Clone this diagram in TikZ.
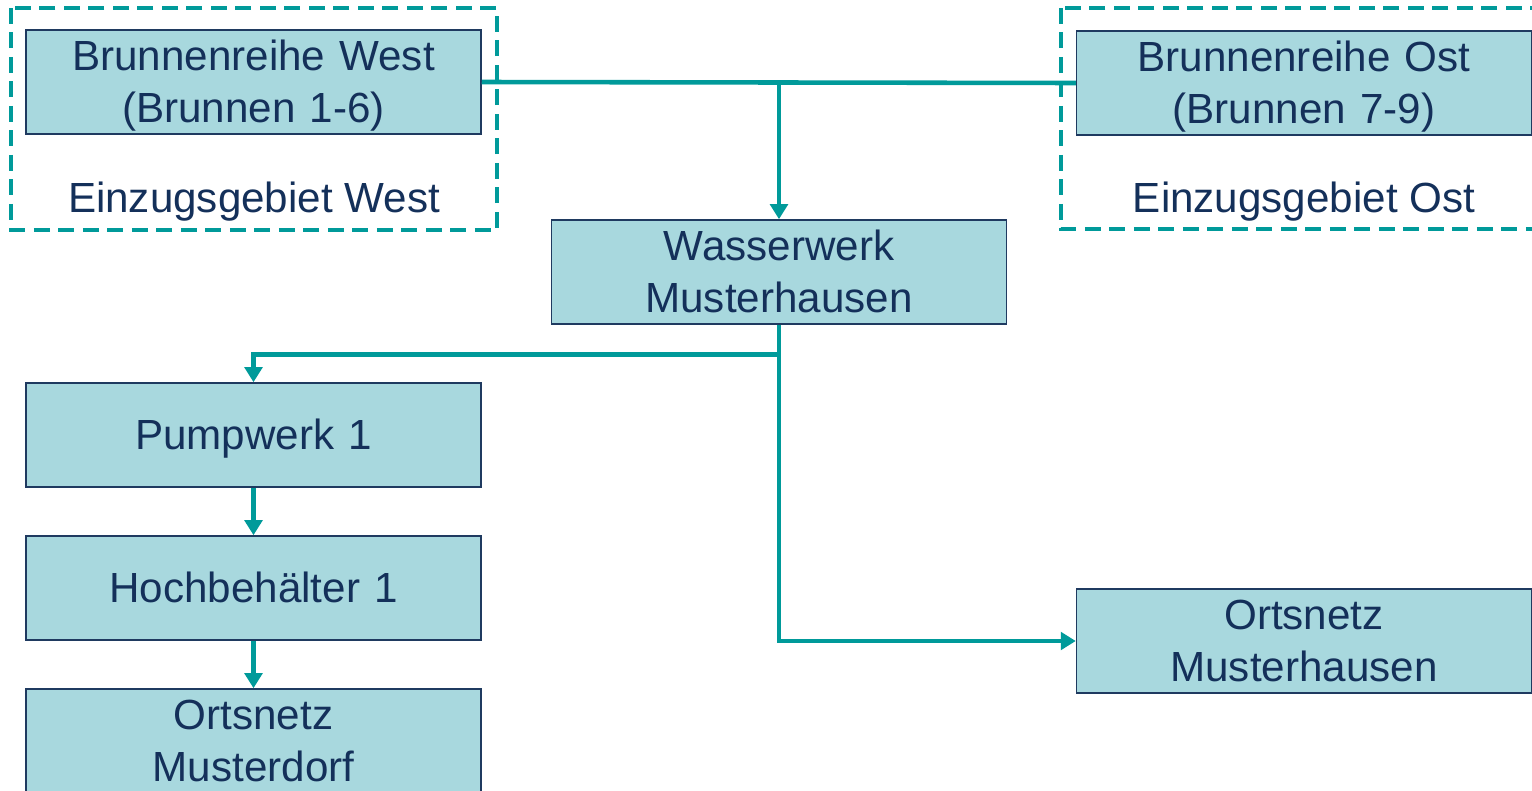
\documentclass[tikz,border=0pt]{standalone}
\usepackage{fontspec}
\setmainfont{Liberation Sans}
\usepackage{tikz}
\usetikzlibrary{positioning,arrows.meta,calc}
\definecolor{wvteal}{HTML}{009A9A}
\definecolor{wvfill}{HTML}{A8D8DE}
\definecolor{wvnavy}{HTML}{1F3A60}
\definecolor{wvtext}{HTML}{14305A}
\newcommand\wvstrut{\rule[-5.1pt]{0pt}{26.8pt}}

\begin{document}
\begin{tikzpicture}[x=0.02cm, y=-0.02cm,
  font=\fontsize{24}{29.6}\selectfont,
  box/.style={draw=wvnavy, fill=wvfill, text=wvtext, line width=0.9pt, inner sep=0pt,
    minimum width=9.1cm, minimum height=2.08cm, text width=8.8cm, align=center,
    execute at begin node=\wvstrut, execute at end node=\wvstrut},
  area/.style={draw=wvteal, line width=2.2pt, dash pattern=on 0.32cm off 0.17cm},
  lbl/.style={text=wvtext, inner sep=0pt},
  pipe/.style={draw=wvteal, line width=2.6pt},
  flow/.style={pipe, -{Triangle[length=3mm, width=3.5mm]}}
]
\clip (0,0) rectangle (1532,791);
% ---------- catchment areas ----------
\draw[area] (11,8) rectangle (497,230);
\draw[area] (1061,8) rectangle (1548,229);
\node[lbl] (lw) at (254,202) {Einzugsgebiet West};
\node[lbl] (lo) at (1304,202) {Einzugsgebiet Ost};
% ---------- wells ----------
\node[box] (west) at (253.5,82) {Brunnenreihe West\\(Brunnen 1-6)};
\node[box] (ost) at (1304,83) {Brunnenreihe Ost\\(Brunnen 7-9)};
% ---------- plant ----------
\node[box] (ww) at (779,272) {Wasserwerk\\Musterhausen};
% ---------- west line ----------
\node[box] (pw) at (253.5,435) {Pumpwerk 1};
\node[box] (hb) at (253.5,588) {Hochbehälter 1};
\node[box] (od) at (253.5,741) {Ortsnetz\\Musterdorf};
% ---------- east line ----------
\node[box] (om) at (1304,641) {Ortsnetz\\Musterhausen};
% ---------- pipes ----------
\draw[pipe] (west.east) -- (ost.west);
\draw[flow] (ww.north |- west.east) -- (ww.north);
\coordinate[below=0.6cm of ww.south] (split);
\draw[flow] (ww.south) -- (split) -| (pw.north);
\draw[flow] (split) |- (om.west);
\draw[flow] (pw) -- (hb);
\draw[flow] (hb) -- (od);
\end{tikzpicture}
\end{document}
